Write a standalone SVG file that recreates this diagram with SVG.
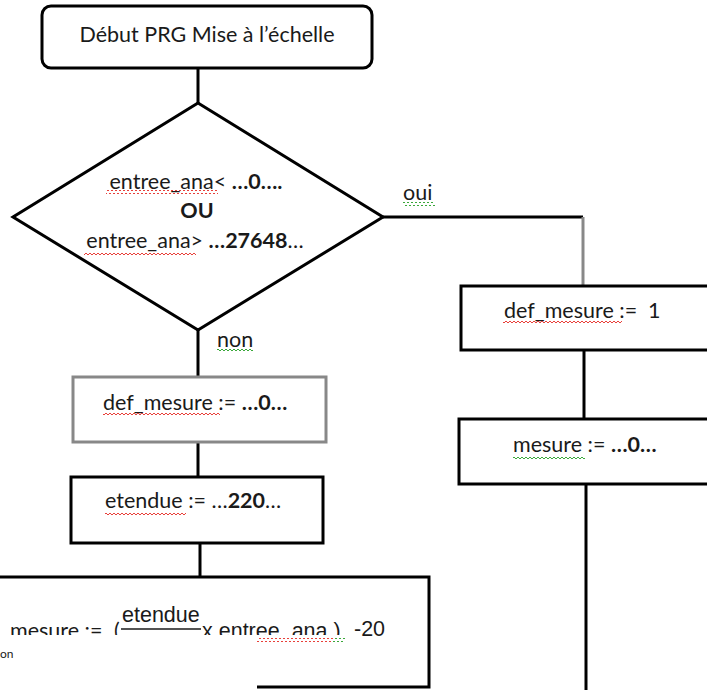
<svg xmlns="http://www.w3.org/2000/svg" width="707" height="690" viewBox="0 0 707 690">
<style>
.box{fill:#fff;stroke:#000;stroke-width:3}
.gbox{fill:#fff;stroke:#888;stroke-width:3}
.ln{fill:none;stroke:#000;stroke-width:3}
.gln{fill:none;stroke:#888;stroke-width:3}
.t{font-family:Lato,"Noto Sans",sans-serif;fill:#1a1a1a;font-size:21.5px}
.a{font-family:"Liberation Sans",Arial,sans-serif;fill:#1a1a1a;font-size:21.5px}
.b{font-weight:bold}
</style>
<defs>
<pattern id="wr" width="4" height="4" patternUnits="userSpaceOnUse"><path d="M0,3 L2,1 L4,3" fill="none" stroke="#e8403a" stroke-width="1"/></pattern>
<pattern id="wg" width="4" height="4" patternUnits="userSpaceOnUse"><path d="M0,3 L2,1 L4,3" fill="none" stroke="#3aa83a" stroke-width="1"/></pattern>
<clipPath id="cl"><rect x="0" y="0" width="352" height="635"/></clipPath>
</defs>
<g id="connectors">
<line class="ln" x1="198" y1="68" x2="198" y2="103"/>
<polyline class="ln" points="383,217 583,217"/>
<line class="gln" x1="583" y1="217" x2="583" y2="286"/>
<line class="ln" x1="584" y1="350" x2="584" y2="419"/>
<line class="ln" x1="586" y1="484" x2="586" y2="690"/>
<line class="ln" x1="198" y1="330" x2="198" y2="377"/>
<line class="ln" x1="198" y1="442" x2="198" y2="477"/>
<line class="ln" x1="200" y1="543" x2="200" y2="577"/>
</g>
<g id="start">
<rect class="box" x="42" y="6" width="330" height="62" rx="9"/>
<text class="t" x="207" y="42" text-anchor="middle">Début PRG Mise à l’échelle</text>
</g>
<g id="decision">
<polygon class="box" points="198,103 383,217 198,330 13,217"/>
<text class="t" x="196" y="189" text-anchor="middle">entree_ana&lt; <tspan class="b">…0….</tspan></text>
<text class="t b" x="197" y="218" text-anchor="middle">OU</text>
<text class="t" x="195" y="248" text-anchor="middle">entree_ana&gt; <tspan class="b">…27648</tspan>…</text>
<rect x="106" y="190" width="112" height="4" fill="url(#wr)"/>
<rect x="84" y="251" width="112" height="4" fill="url(#wr)"/>
</g>
<g id="label-oui">
<text class="t" x="403" y="200">oui</text>
<rect x="403" y="202" width="32" height="4" fill="url(#wg)"/>
</g>
<g id="label-non">
<text class="t" x="217" y="347">non</text>
<rect x="217" y="348" width="36" height="4" fill="url(#wg)"/>
</g>
<g id="def1">
<rect class="box" x="461" y="286" width="260" height="64"/>
<text class="t" x="504" y="318">def_mesure :=&#160;&#160;1</text>
<rect x="503" y="321" width="119" height="4" fill="url(#wr)"/>
</g>
<g id="mesure0">
<rect class="box" x="459" y="419" width="262" height="65"/>
<text class="t" x="513" y="452">mesure := <tspan class="b">…0…</tspan></text>
<rect x="513" y="455" width="72" height="4" fill="url(#wg)"/>
</g>
<g id="def0">
<rect class="gbox" x="73" y="377" width="253" height="65"/>
<text class="t" x="103" y="410">def_mesure := <tspan class="b">…0…</tspan></text>
<rect x="103" y="413" width="117" height="4" fill="url(#wr)"/>
</g>
<g id="etendue">
<rect class="box" x="71" y="477" width="252" height="66"/>
<text class="t" x="105" y="508">etendue := …<tspan class="b">220</tspan>…</text>
<rect x="105" y="511" width="81" height="4" fill="url(#wr)"/>
</g>
<g id="calcul">
<polyline class="ln" points="0,577 429,577 429,687 257,687"/>
<g clip-path="url(#cl)">
<text class="t" x="10" y="638">mesure := <tspan x="114">(</tspan></text>
<text class="a" x="202" y="638">x entree_ana )</text>
</g>
<text class="a" x="122" y="622">etendue</text>
<line x1="121" y1="629" x2="201" y2="629" stroke="#1a1a1a" stroke-width="1.5"/>
<text class="a" x="354" y="636" font-size="19">-20</text>
<rect x="257" y="638" width="76" height="4" fill="url(#wr)"/>
<rect x="333" y="638" width="12" height="4" fill="url(#wg)"/>
<text class="t" x="0" y="658" style="font-size:12px">on</text>
</g>
</svg>
